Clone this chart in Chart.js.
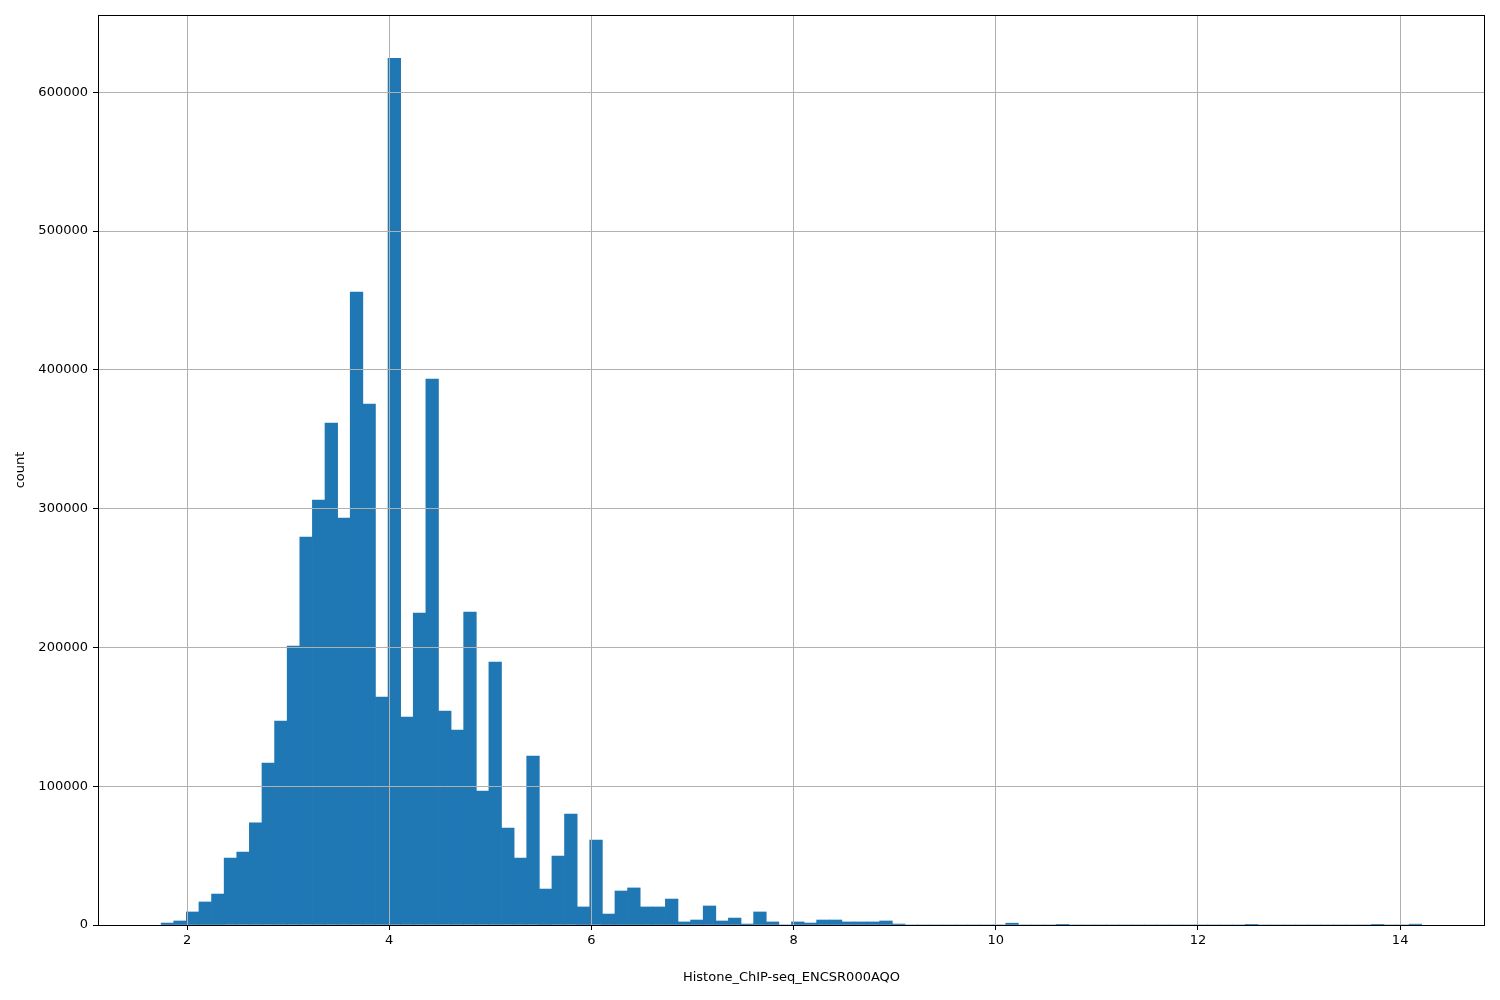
<!DOCTYPE html>
<html>
<head>
<meta charset="utf-8">
<script src="https://cdn.jsdelivr.net/npm/chart.js@4.4.0/dist/chart.umd.min.js"></script>
<style>
  html, body { margin: 0; padding: 0; background: #fff; }
  #wrap { width: 1500px; height: 1000px; }
</style>
</head>
<body>
<div id="wrap"><canvas id="histChart" width="1500" height="1000"></canvas></div>
<script>
// histogram bins (100 bins)
const binStart = 1.744;
const binWidth = 0.1247;
const counts = [
  1400, 2900, 9400, 16600, 22300, 48300, 52600, 73700, 116700, 147000,
  201000, 279500, 306100, 361600, 293200, 456000, 375300, 164200, 624500, 149800,
  224700, 393300, 154100, 140500, 225500, 96500, 189400, 69900, 48300, 121700,
  25900, 49700, 80000, 13000, 61200, 7900, 24500, 26700, 13000, 13000,
  18700, 2200, 3600, 13700, 2900, 5000, 700, 9400, 2200, 0,
  2200, 1400, 3600, 3600, 2200, 2200, 2200, 2900, 700, 0,
  0, 0, 0, 0, 0, 0, 0, 1300, 0, 0,
  0, 500, 0, 0, 0, 0, 0, 0, 0, 0,
  0, 0, 0, 0, 0, 0, 500, 0, 0, 0,
  0, 0, 0, 0, 0, 0, 500, 0, 0, 600
];
const xTicks = [2, 4, 6, 8, 10, 12, 14];
const yTicks = [0, 100000, 200000, 300000, 400000, 500000, 600000];
const xRange = [1.1195, 14.8395];
const yMax = 655700;

const barColor = '#1f77b4';
const gridColor = '#b0b0b0';
const font = { family: 'DejaVu Sans', size: 13 };

const points = counts.map((c, i) => ({ x: binStart + (i + 0.5) * binWidth, y: c }));

// grid over the bars + black frame, like matplotlib
const gridOnTop = {
    id: 'gridOnTop',
    afterDatasetsDraw(chart) {
        const area = chart.chartArea;
        chart.scales.x.drawGrid(area);
        chart.scales.y.drawGrid(area);
        const ctx = chart.ctx;
        ctx.save();
        ctx.strokeStyle = '#000';
        ctx.lineWidth = 1;
        ctx.strokeRect(area.left + 0.5, area.top + 0.5, area.right - area.left - 1, area.bottom - area.top);
        ctx.restore();
    }
};

new Chart(document.getElementById('histChart').getContext('2d'), {
    type: 'bar',
    data: {
        datasets: [{
            data: points,
            backgroundColor: barColor,
            borderWidth: 0,
            barPercentage: 1,
            categoryPercentage: 1
        }]
    },
    options: {
        responsive: false,
        devicePixelRatio: 1,
        animation: false,
        layout: { padding: { left: 0, right: 15, top: 15, bottom: 0 } },
        plugins: {
            legend: { display: false },
            tooltip: { enabled: false }
        },
        scales: {
            x: {
                type: 'linear',
                min: xRange[0],
                max: xRange[1],
                offset: false,
                afterBuildTicks: (scale) => { scale.ticks = xTicks.map(v => ({ value: v })); },
                afterFit: (scale) => { scale.height = 75; },
                border: { display: false },
                grid: { color: gridColor, lineWidth: 1, tickColor: '#000', tickLength: 5, offset: false },
                ticks: { color: '#000', font: font, padding: 3, maxRotation: 0, callback: (v) => String(v) },
                title: {
                    display: true,
                    text: 'Histone_ChIP-seq_ENCSR000AQO',
                    color: '#000',
                    font: font,
                    padding: { top: 0, bottom: 15 }
                }
            },
            y: {
                type: 'linear',
                min: 0,
                max: yMax,
                afterBuildTicks: (scale) => { scale.ticks = yTicks.map(v => ({ value: v })); },
                afterFit: (scale) => { scale.width = 98; },
                border: { display: false },
                grid: { color: gridColor, lineWidth: 1, tickColor: '#000', tickLength: 5, offset: false },
                ticks: { color: '#000', font: font, padding: 5, callback: (v) => String(v) },
                title: {
                    display: true,
                    text: 'count',
                    color: '#000',
                    font: font,
                    padding: { top: 13, bottom: 0 }
                }
            }
        }
    },
    plugins: [gridOnTop]
});
</script>
</body>
</html>
